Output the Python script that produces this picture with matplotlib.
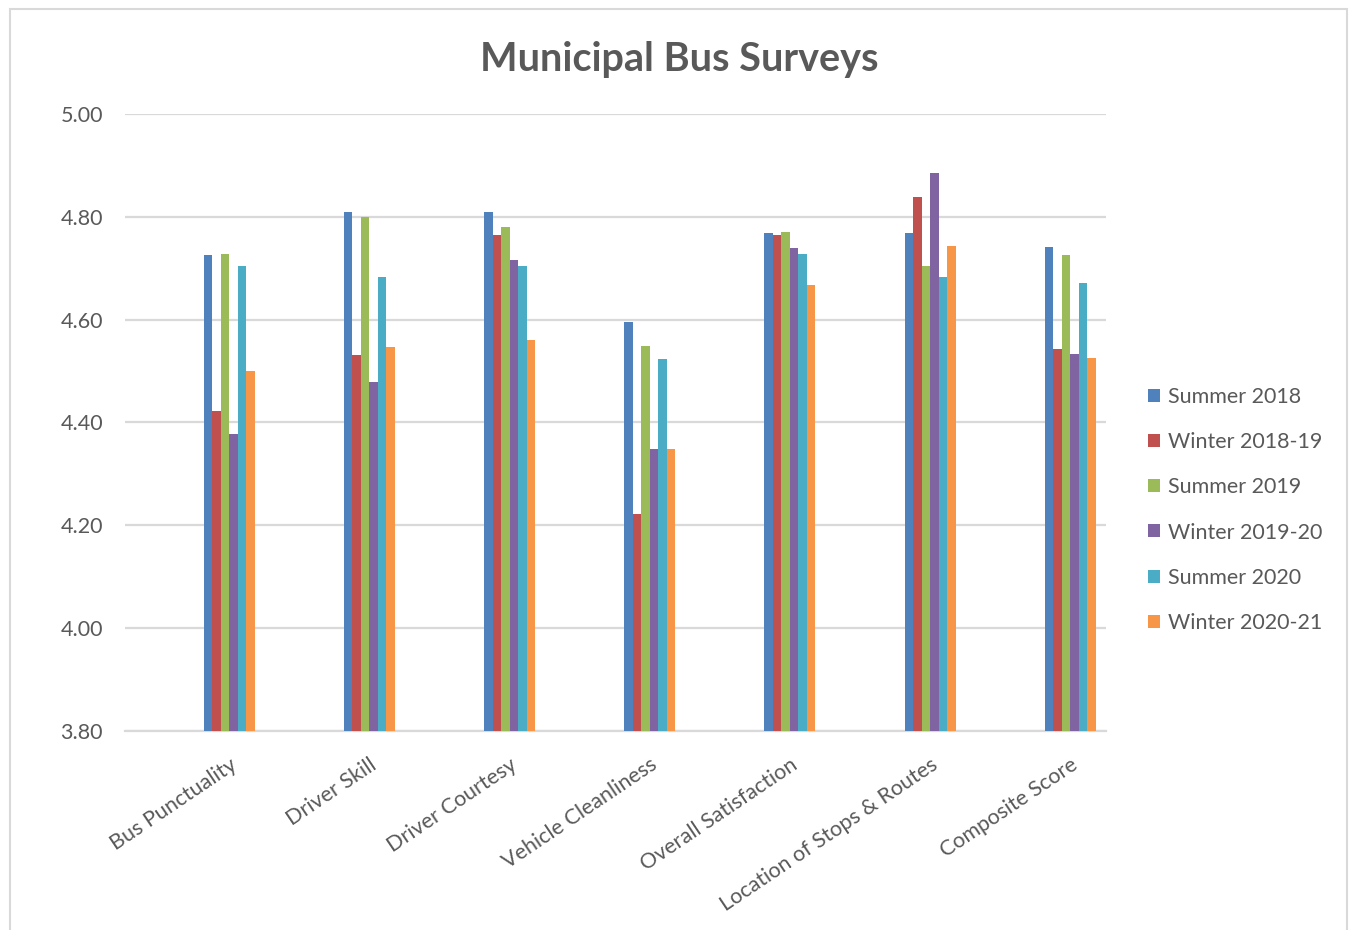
import matplotlib
matplotlib.use("Agg")
import matplotlib.pyplot as plt
import numpy as np
from matplotlib.patches import Rectangle

categories = ["Bus Punctuality", "Driver Skill", "Driver Courtesy", "Vehicle Cleanliness",
              "Overall Satisfaction", "Location of Stops & Routes", "Composite Score"]
series_names = ["Summer 2018", "Winter 2018-19", "Summer 2019", "Winter 2019-20",
                "Summer 2020", "Winter 2020-21"]
summer_2018 = [4.725, 4.810, 4.810, 4.595, 4.768, 4.768, 4.742]
winter_2018_19 = [4.423, 4.531, 4.765, 4.222, 4.765, 4.838, 4.543]
summer_2019 = [4.728, 4.800, 4.780, 4.548, 4.770, 4.705, 4.725]
winter_2019_20 = [4.378, 4.478, 4.716, 4.349, 4.740, 4.885, 4.533]
summer_2020 = [4.705, 4.683, 4.705, 4.523, 4.727, 4.683, 4.671]
winter_2020_21 = [4.500, 4.546, 4.561, 4.349, 4.668, 4.743, 4.526]
yticks = [3.80, 4.00, 4.20, 4.40, 4.60, 4.80, 5.00]

series = [summer_2018, winter_2018_19, summer_2019, winter_2019_20, summer_2020, winter_2020_21]
colors = ["#4F81BD", "#C0504D", "#9BBB59", "#8064A2", "#4BACC6", "#F79646"]

plt.rcParams['font.family'] = ['Lato', 'DejaVu Sans']
W, H = 1351, 930
fig = plt.figure(figsize=(W / 100, H / 100), dpi=100)
fig.patch.set_facecolor("white")

# chart border
fig.patches.append(Rectangle((9.5 / W, -0.05), (1346.5 - 9.5) / W, 1 - 8.5 / H + 0.05,
                             transform=fig.transFigure, fill=False,
                             edgecolor="#D9D9D9", linewidth=1.5))

left, right, top, bottom = 124.5, 1106, 114, 731
ax = fig.add_axes([left / W, 1 - bottom / H, (right - left) / W, (bottom - top) / H])

x = np.arange(len(categories))
bw = 8.5 / 140
n = len(series)
for i, (vals, name, c) in enumerate(zip(series, series_names, colors)):
    ax.bar(x + (i - (n - 1) / 2) * bw, np.array(vals) - 3.8, bottom=3.8, width=bw,
           color=c, label=name, zorder=3, linewidth=0)

ax.set_ylim(3.8, 5.0)
ax.set_xlim(-0.746, 6.254)
ax.set_yticks(yticks)
ax.set_yticklabels([f"{v:.2f}" for v in yticks], fontsize=15.5, color="#595959")
ax.yaxis.grid(True, color="#D9D9D9", linewidth=1.6, zorder=0)
ax.set_axisbelow(True)
ax.tick_params(axis="both", length=0)
ax.tick_params(axis="y", pad=15.5)
for s in ["top", "right", "left"]:
    ax.spines[s].set_visible(False)
ax.spines["bottom"].set_color("#D9D9D9")
ax.spines["bottom"].set_linewidth(1.6)

ax.set_xticks(x)
ax.set_xticklabels(categories, fontsize=15.5, color="#595959", rotation=34,
                   ha="right", va="top", rotation_mode="anchor")
ax.tick_params(axis="x", pad=17)

fig.text(679 / W, 1 - 60 / H, "Municipal Bus Surveys", fontsize=28.5, fontweight="bold",
         color="#595959", ha="center", va="center")

leg = ax.legend(loc="center left", bbox_to_anchor=(1129 / W, 1 - 510 / H),
                bbox_transform=fig.transFigure, frameon=False, fontsize=15.5,
                handlelength=0.55, handleheight=0.55, handletextpad=0.35,
                labelspacing=1.17)
for t in leg.get_texts():
    t.set_color("#595959")

fig.savefig("out.png", dpi=100, facecolor="white")
